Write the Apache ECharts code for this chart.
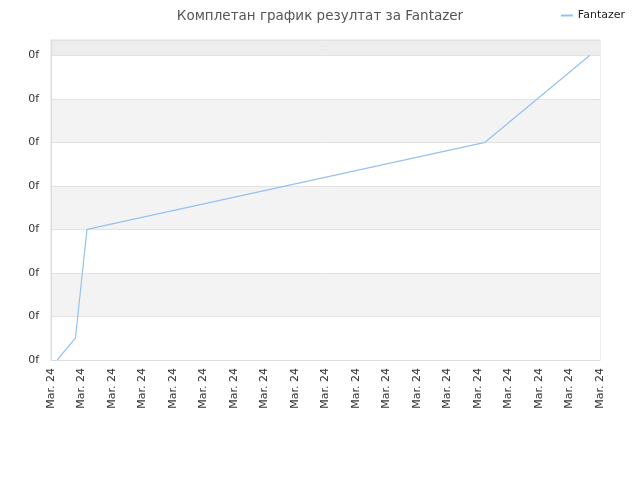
<!DOCTYPE html>
<html>
<head>
<meta charset="utf-8">
<script src="https://cdn.jsdelivr.net/npm/echarts@6/dist/echarts.min.js"></script>
<style>
  html, body { margin: 0; padding: 0; background: #fff; }
  #chart { width: 640px; height: 480px; }
</style>
</head>
<body>
<div id="chart"></div>
<script>
// данные са слике
const seriesName = 'Fantazer'
const xValues = [0.2, 0.8, 1.18, 14.23, 17.67]
const yValues = [0, 0.5, 3, 5, 7]
const xTickLabel = 'Mar. 24'
const yTickLabel = '0f'

const points = xValues.map((x, i) => [x, yValues[i]])

const chart = echarts.init(document.getElementById('chart'))
chart.setOption({
  animation: false,
  title: {
    text: 'Комплетан график резултат за Fantazer',
    left: 'center',
    top: 4,
    textStyle: { fontSize: 13.5, fontWeight: 'normal', color: '#555', fontFamily: 'DejaVu Sans' }
  },
  legend: {
    right: 10,
    top: 5,
    itemWidth: 12,
    itemHeight: 2,
    icon: 'rect',
    textStyle: { fontSize: 11, color: '#222', fontFamily: 'DejaVu Sans' },
    data: [seriesName]
  },
  grid: { left: 51, right: 40, top: 40, bottom: 120, show: true, borderColor: '#ddd', borderWidth: 1 },
  xAxis: {
    type: 'value',
    min: 0,
    max: 18,
    interval: 1,
    axisLine: { lineStyle: { color: '#ddd' } },
    axisTick: { show: false },
    splitLine: { show: false },
    axisLabel: {
      rotate: 90,
      fontSize: 11,
      color: '#333',
      fontFamily: 'DejaVu Sans',
      margin: 8,
      formatter: () => xTickLabel
    }
  },
  yAxis: {
    type: 'value',
    min: 0,
    max: 7.35,
    interval: 1,
    axisLine: { show: true, lineStyle: { color: '#ddd' } },
    axisTick: { show: false },
    splitLine: { lineStyle: { color: '#e2e2e2' } },
    splitArea: {
      show: true,
      areaStyle: { color: ['#fff', '#f3f3f3', '#fff', '#f3f3f3', '#fff', '#f3f3f3', '#fff', '#ededed'] }
    },
    axisLabel: {
      fontSize: 11,
      color: '#333',
      fontFamily: 'DejaVu Sans',
      showMaxLabel: false,
      margin: 12,
      formatter: () => yTickLabel
    }
  },
  series: [{
    name: seriesName,
    type: 'line',
    data: points,
    showSymbol: false,
    lineStyle: { color: '#94c2f0', width: 1.2 },
    itemStyle: { color: '#94c2f0' }
  }]
})
</script>
</body>
</html>
